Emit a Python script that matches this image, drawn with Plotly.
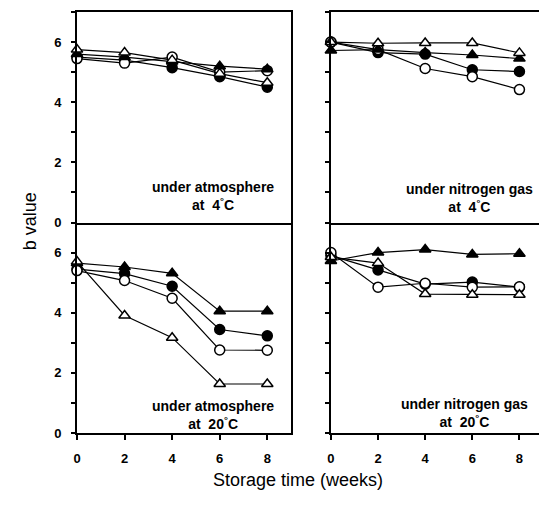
import plotly.graph_objects as go

weeks = [0, 2, 4, 6, 8]

# panel: atmosphere 4°C
atm4_filled_circle = [5.5, 5.4, 5.15, 4.85, 4.5]
atm4_open_circle = [5.45, 5.3, 5.5, 5.0, 5.05]
atm4_filled_triangle = [5.6, 5.5, 5.35, 5.2, 5.1]
atm4_open_triangle = [5.75, 5.65, 5.4, 4.95, 4.65]

# panel: nitrogen 4°C
n24_filled_circle = [6.0, 5.65, 5.6, 5.08, 5.02]
n24_open_circle = [6.0, 5.75, 5.12, 4.85, 4.42]
n24_filled_triangle = [5.72, 5.75, 5.65, 5.57, 5.45]
n24_open_triangle = [6.0, 5.96, 5.97, 5.97, 5.64]

# panel: atmosphere 20°C
atm20_filled_circle = [5.45, 5.3, 4.88, 3.44, 3.23]
atm20_open_circle = [5.4, 5.07, 4.48, 2.76, 2.75]
atm20_filled_triangle = [5.65, 5.52, 5.31, 4.05, 4.05]
atm20_open_triangle = [5.7, 3.91, 3.17, 1.63, 1.63]

# panel: nitrogen 20°C
n220_filled_circle = [5.9, 5.42, 4.95, 5.02, 4.85]
n220_open_circle = [6.0, 4.85, 4.98, 4.85, 4.86]
n220_filled_triangle = [5.72, 6.0, 6.1, 5.94, 5.96]
n220_open_triangle = [5.85, 5.65, 4.62, 4.6, 4.6]

y_tickvals = [0, 2, 4, 6]
y_ticktext = ["0", "2", "4", "6"]
x_tickvals = [0, 2, 4, 6, 8]
x_ticktext = ["0", "2", "4", "6", "8"]

panel_labels = [
    "under atmosphere<br>at  4<sup>°</sup>C",
    "under nitrogen gas<br>at  4<sup>°</sup>C",
    "under atmosphere<br>at  20<sup>°</sup>C",
    "under nitrogen gas<br>at  20<sup>°</sup>C",
]

panels = [
    ("x", "y", [atm4_filled_circle, atm4_open_circle, atm4_filled_triangle, atm4_open_triangle]),
    ("x2", "y2", [n24_filled_circle, n24_open_circle, n24_filled_triangle, n24_open_triangle]),
    ("x3", "y3", [atm20_filled_circle, atm20_open_circle, atm20_filled_triangle, atm20_open_triangle]),
    ("x4", "y4", [n220_filled_circle, n220_open_circle, n220_filled_triangle, n220_open_triangle]),
]

styles = [
    dict(symbol="circle", color="black"),
    dict(symbol="circle", color="white"),
    dict(symbol="triangle-up", color="black"),
    dict(symbol="triangle-up", color="white"),
]

fig = go.Figure()
for xa, ya, series in panels:
    for vals, st in zip(series, styles):
        fig.add_trace(go.Scatter(
            x=weeks, y=vals, xaxis=xa, yaxis=ya, mode="lines+markers",
            line=dict(color="black", width=1.2),
            marker=dict(symbol=st["symbol"], size=10, color=st["color"],
                        line=dict(color="black", width=1.5)),
            showlegend=False, cliponaxis=False,
        ))

FAM = "Arial, Liberation Sans, sans-serif"
font_tick = dict(family=FAM, size=13, color="black", weight="bold")

# page body has an 8px margin, so the figure origin sits at (8, 8)
OFF = 8
W, H = 547 - OFF, 507 - OFF
L = 77 - OFF
T = 2
R = W - (545 - OFF)
B = H - (433 - OFF)
pw = W - L - R
ph = H - T - B
xd1 = [0, (292 - 77) / pw]
xd2 = [(332 - 77) / pw, 1]
yd_top = [0.5, 1]
yd_bot = [0, 0.5]

def xaxis(domain, anchor, bottom_panel):
    if bottom_panel:
        # lower panels: only the bottom frame line (the shared middle line comes from the upper panel)
        return dict(domain=domain, anchor=anchor, range=[0, 9], showgrid=False, zeroline=False,
                    showline=True, linecolor="black", linewidth=2, mirror=False,
                    ticks="outside", ticklen=5, tickwidth=1.5, tickcolor="black",
                    tickvals=x_tickvals, ticktext=x_ticktext, showticklabels=True,
                    tickfont=font_tick, ticklabelstandoff=7)
    return dict(domain=domain, anchor=anchor, range=[0, 9], showgrid=False, zeroline=False,
                showline=True, linecolor="black", linewidth=2, mirror=True,
                ticks="", showticklabels=False)

def yaxis(domain, anchor, labels):
    return dict(domain=domain, anchor=anchor, range=[0, 7], showgrid=False, zeroline=False,
                showline=True, linecolor="black", linewidth=2, mirror=True,
                ticks="outside", ticklen=4, tickwidth=1.5, tickcolor="black",
                tickvals=y_tickvals, ticktext=y_ticktext, showticklabels=labels,
                minor=dict(ticks="outside", dtick=1, ticklen=4, tickwidth=1.5, tickcolor="black"),
                tickfont=font_tick, ticklabelstandoff=7)

fig.update_layout(
    width=W, height=H,
    margin=dict(l=L, r=R, t=T, b=B),
    paper_bgcolor="white", plot_bgcolor="white",
    xaxis=xaxis(xd1, "y", False),
    yaxis=yaxis(yd_top, "x", True),
    xaxis2=xaxis(xd2, "y2", False),
    yaxis2=yaxis(yd_top, "x2", False),
    xaxis3=xaxis(xd1, "y3", True),
    yaxis3=yaxis(yd_bot, "x3", True),
    xaxis4=xaxis(xd2, "y4", True),
    yaxis4=yaxis(yd_bot, "x4", False),
)

label_pos = [("x", "y", 5.73, 0.87), ("x2", "y2", 5.9, 0.82),
             ("x3", "y3", 5.73, 0.6), ("x4", "y4", 5.67, 0.65)]
for (xr, yr, lx, ly), txt in zip(label_pos, panel_labels):
    fig.add_annotation(x=lx, y=ly, xref=xr, yref=yr, text="<b>" + txt + "</b>",
                       showarrow=False, xanchor="center", yanchor="middle", align="center",
                       font=dict(family=FAM, size=14, color="black"))

fig.add_annotation(x=(18 - 77) / pw, y=(433 - 220) / ph, xref="paper", yref="paper",
                   text="b value", textangle=-90, showarrow=False,
                   font=dict(family=FAM, size=18, color="black"))
fig.add_annotation(x=(299 - 77) / pw, y=-(492 - 433) / ph, xref="paper", yref="paper",
                   text="Storage time (weeks)", showarrow=False,
                   font=dict(family=FAM, size=18, color="black"))

fig.write_html("out.html")
